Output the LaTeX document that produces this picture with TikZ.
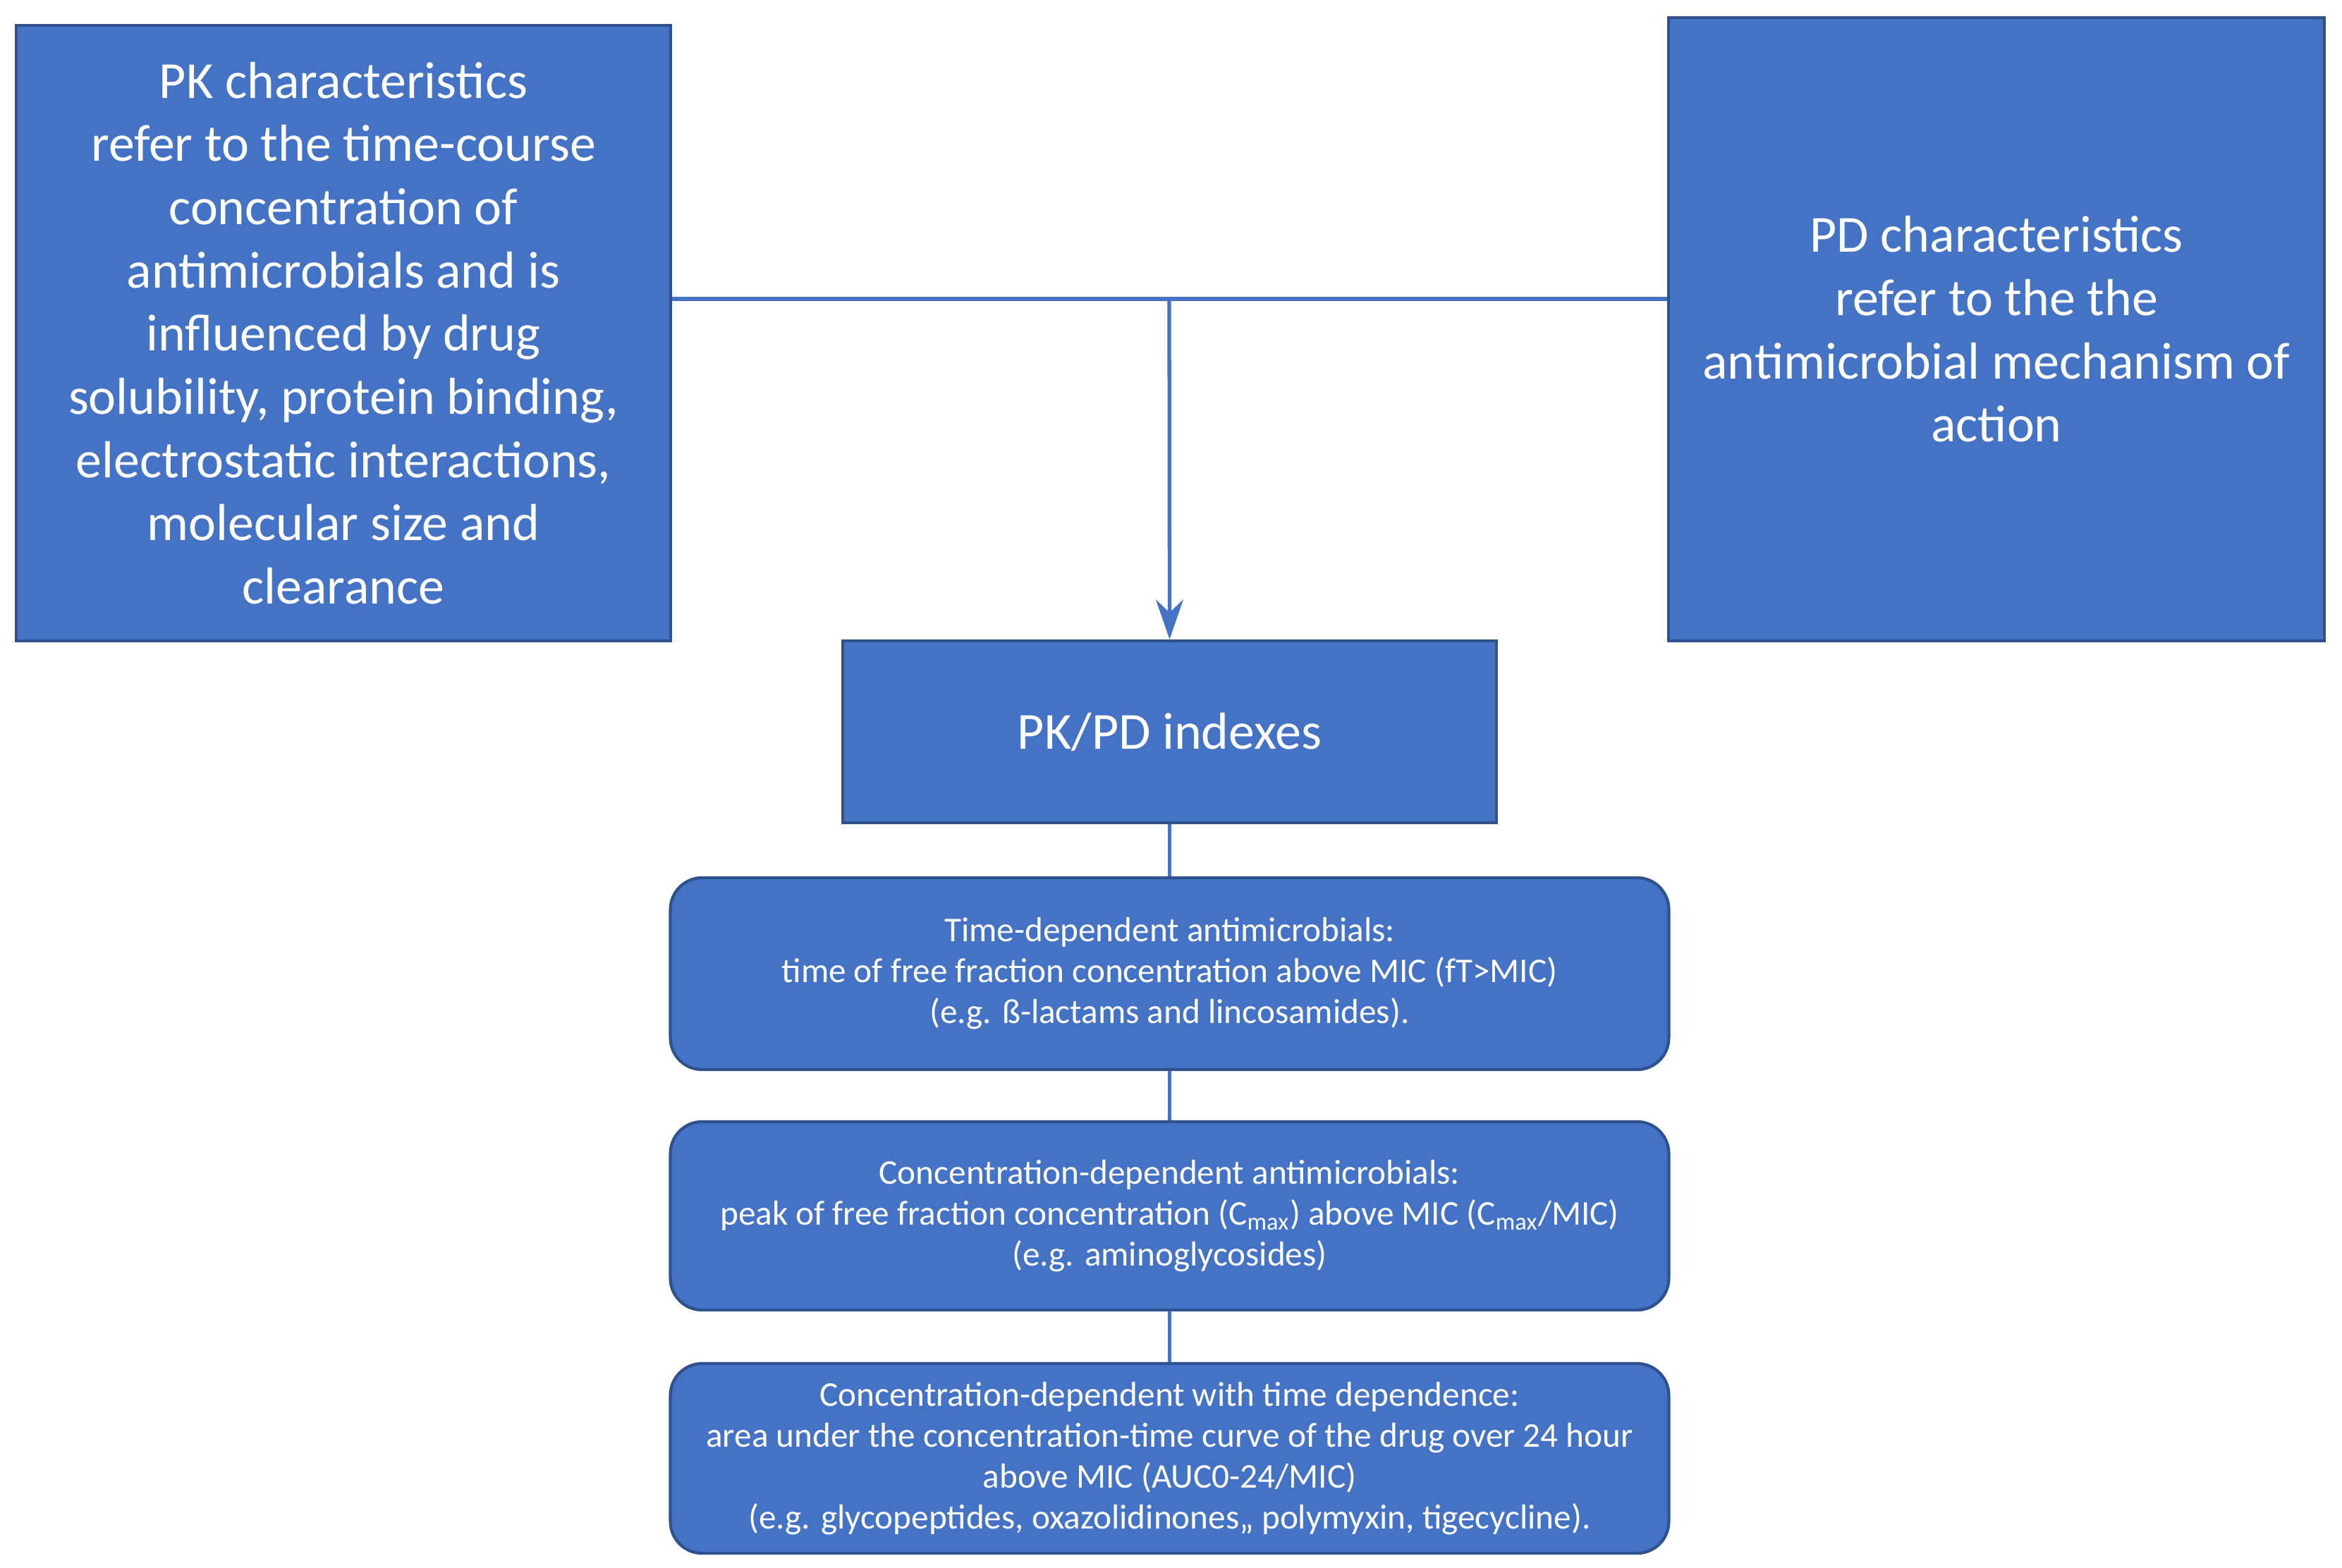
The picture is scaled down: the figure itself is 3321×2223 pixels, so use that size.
\documentclass[tikz,border=0pt]{standalone}
\usepackage{fontspec}
\setmainfont{Carlito}
\usetikzlibrary{arrows.meta}
\definecolor{bfill}{HTML}{4472C4}
\definecolor{bdraw}{HTML}{2F528F}
\begin{document}
\begin{tikzpicture}[x=0.01cm,y=-0.01cm,
 big/.style={draw=bdraw,line width=1.2pt,fill=bfill,text=white,align=center,font=\fontsize{21}{25.5}\selectfont,inner sep=0pt},
 small/.style={big,rounded corners=0.45cm,font=\fontsize{14}{16.5}\selectfont},
 line/.style={draw=bfill,line width=1.5pt}]
\useasboundingbox (0,0) rectangle (3321,2223);
\node[big,minimum width=9.28cm,minimum height=8.73cm] (pk) at (487,472.5) {PK characteristics\\refer to the time-course\\concentration of\\antimicrobials and is\\influenced by drug\\solubility, protein binding,\\electrostatic interactions,\\molecular size and\\clearance};
\node[big,minimum width=9.30cm,minimum height=8.84cm] (pd) at (2831,467) {PD characteristics\\refer to the the\\antimicrobial mechanism of\\action};
\node[big,minimum width=9.27cm,minimum height=2.58cm] (idx) at (1658.5,1038) {PK/PD indexes};
\node[small,minimum width=14.15cm,minimum height=2.72cm] (t1) at (1658.5,1381) {Time-dependent antimicrobials:\\time of free fraction concentration above MIC (fT>MIC)\\(e.g. ß-lactams and lincosamides).};
\node[small,minimum width=14.15cm,minimum height=2.67cm] (t2) at (1658.5,1724.5) {Concentration-dependent antimicrobials:\\peak of free fraction concentration (C\textsubscript{max}) above MIC (C\textsubscript{max}/MIC)\\(e.g. aminoglycosides)};
\node[small,minimum width=14.15cm,minimum height=2.69cm] (t3) at (1658.5,2068.5) {Concentration-dependent with time dependence:\\area under the concentration-time curve of the drug over 24 hour\\above MIC (AUC0-24/MIC)\\(e.g. glycopeptides, oxazolidinones,, polymyxin, tigecycline).};
\coordinate (j) at (1658,424);
\draw[line] (pk.east |- j) -- (pd.west |- j);
\draw[line,-{Stealth[length=16pt,width=11pt]}] (j) -- (idx.north);
\draw[line] (idx.south) -- (t1.north);
\draw[line] (t1.south) -- (t2.north);
\draw[line] (t2.south) -- (t3.north);
\end{tikzpicture}
\end{document}
